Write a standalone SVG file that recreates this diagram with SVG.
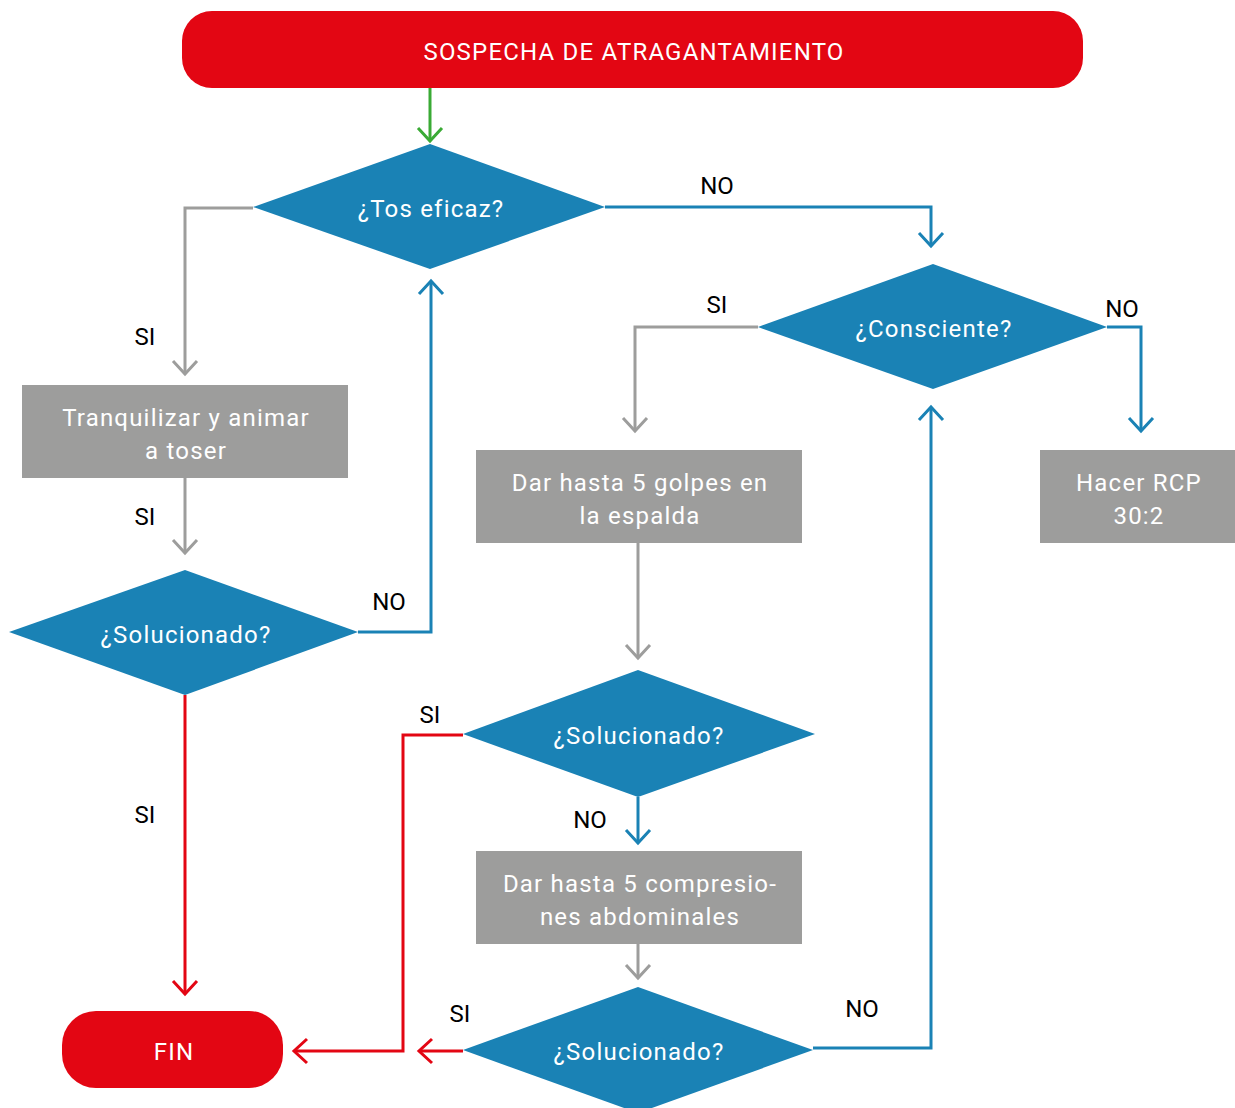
<svg xmlns="http://www.w3.org/2000/svg" width="1235" height="1108" viewBox="0 0 1235 1108">
<style>
.red{fill:#E30613}
.dia{fill:#1A82B5}
.box{fill:#9D9D9C}
text{font-family:Roboto,"Liberation Sans",sans-serif;font-size:24px;text-anchor:middle}
.w{fill:#FFFFFF;letter-spacing:1.2px}
.lbl{fill:#000000}
.c{fill:none;stroke-width:3}
.cb{stroke:#1A82B5}
.cg{stroke:#9D9D9C}
.cr{stroke:#E30613}
.cgr{stroke:#3AAA35}
</style>
<defs>
<marker id="ab" markerUnits="userSpaceOnUse" viewBox="-2 -14 18 28" markerWidth="18" markerHeight="28" refX="13" refY="0" orient="auto"><path d="M0,-12 L13,0 L0,12" fill="none" stroke="#1A82B5" stroke-width="3"/></marker>
<marker id="ag" markerUnits="userSpaceOnUse" viewBox="-2 -14 18 28" markerWidth="18" markerHeight="28" refX="13" refY="0" orient="auto"><path d="M0,-12 L13,0 L0,12" fill="none" stroke="#9D9D9C" stroke-width="3"/></marker>
<marker id="ar" markerUnits="userSpaceOnUse" viewBox="-2 -14 18 28" markerWidth="18" markerHeight="28" refX="13" refY="0" orient="auto"><path d="M0,-12 L13,0 L0,12" fill="none" stroke="#E30613" stroke-width="3"/></marker>
<marker id="agr" markerUnits="userSpaceOnUse" viewBox="-2 -14 18 28" markerWidth="18" markerHeight="28" refX="13" refY="0" orient="auto"><path d="M0,-12 L13,0 L0,12" fill="none" stroke="#3AAA35" stroke-width="3"/></marker>
</defs>
<g id="connectors">
<path class="c cgr" d="M430,88 V141" marker-end="url(#agr)"/>
<path class="c cg" d="M253,208 H185 V374" marker-end="url(#ag)"/>
<path class="c cg" d="M185,478 V553" marker-end="url(#ag)"/>
<path class="c cb" d="M358,632 H431 V281" marker-end="url(#ab)"/>
<path class="c cr" d="M185,695 V994" marker-end="url(#ar)"/>
<path class="c cb" d="M605,207 H931 V246" marker-end="url(#ab)"/>
<path class="c cb" d="M1107,327 H1141 V431" marker-end="url(#ab)"/>
<path class="c cg" d="M758,327 H635 V431" marker-end="url(#ag)"/>
<path class="c cg" d="M638,543 V658" marker-end="url(#ag)"/>
<path class="c cr" d="M463,735 H403 V1051 H294" marker-end="url(#ar)"/>
<path class="c cb" d="M638,797 V843" marker-end="url(#ab)"/>
<path class="c cg" d="M638,944 V978" marker-end="url(#ag)"/>
<path class="c cr" d="M463,1051 H419" marker-end="url(#ar)"/>
<path class="c cb" d="M813,1048 H931 V407" marker-end="url(#ab)"/>
<text class="lbl" x="717" y="194">NO</text>
<text class="lbl" x="145" y="345">SI</text>
<text class="lbl" x="145" y="525">SI</text>
<text class="lbl" x="389" y="610">NO</text>
<text class="lbl" x="145" y="823">SI</text>
<text class="lbl" x="717" y="313">SI</text>
<text class="lbl" x="1122" y="317">NO</text>
<text class="lbl" x="430" y="723">SI</text>
<text class="lbl" x="590" y="828">NO</text>
<text class="lbl" x="460" y="1022">SI</text>
<text class="lbl" x="862" y="1017">NO</text>
</g>
<g id="start">
<rect class="red" x="182" y="11" width="901" height="77" rx="30"/>
<text class="w" x="634" y="60">SOSPECHA DE ATRAGANTAMIENTO</text>
</g>
<g id="tos">
<polygon class="dia" points="430,144 605,207 430,269 253,207"/>
<text class="w" x="431" y="217">¿Tos eficaz?</text>
</g>
<g id="tranquilizar">
<rect class="box" x="22" y="385" width="326" height="93"/>
<text class="w" x="186" y="426">Tranquilizar y animar</text>
<text class="w" x="186" y="459">a toser</text>
</g>
<g id="solucionado1">
<polygon class="dia" points="185,570 358,632 185,695 9,632"/>
<text class="w" x="186" y="643">¿Solucionado?</text>
</g>
<g id="fin">
<rect class="red" x="62" y="1011" width="221" height="77" rx="34"/>
<text class="w" x="174" y="1060">FIN</text>
</g>
<g id="consciente">
<polygon class="dia" points="933,264 1107,327 933,389 758,327"/>
<text class="w" x="934" y="337">¿Consciente?</text>
</g>
<g id="rcp">
<rect class="box" x="1040" y="450" width="195" height="93"/>
<text class="w" x="1139" y="491">Hacer RCP</text>
<text class="w" x="1139" y="524">30:2</text>
</g>
<g id="golpes">
<rect class="box" x="476" y="450" width="326" height="93"/>
<text class="w" x="640" y="491">Dar hasta 5 golpes en</text>
<text class="w" x="640" y="524">la espalda</text>
</g>
<g id="solucionado2">
<polygon class="dia" points="638,670 815,734 638,797 463,734"/>
<text class="w" x="639" y="744">¿Solucionado?</text>
</g>
<g id="compresiones">
<rect class="box" x="476" y="851" width="326" height="93"/>
<text class="w" x="640" y="892">Dar hasta 5 compresio-</text>
<text class="w" x="640" y="925">nes abdominales</text>
</g>
<g id="solucionado3">
<polygon class="dia" points="638,987 813,1050 638,1113 463,1050"/>
<text class="w" x="639" y="1060">¿Solucionado?</text>
</g>
</svg>
